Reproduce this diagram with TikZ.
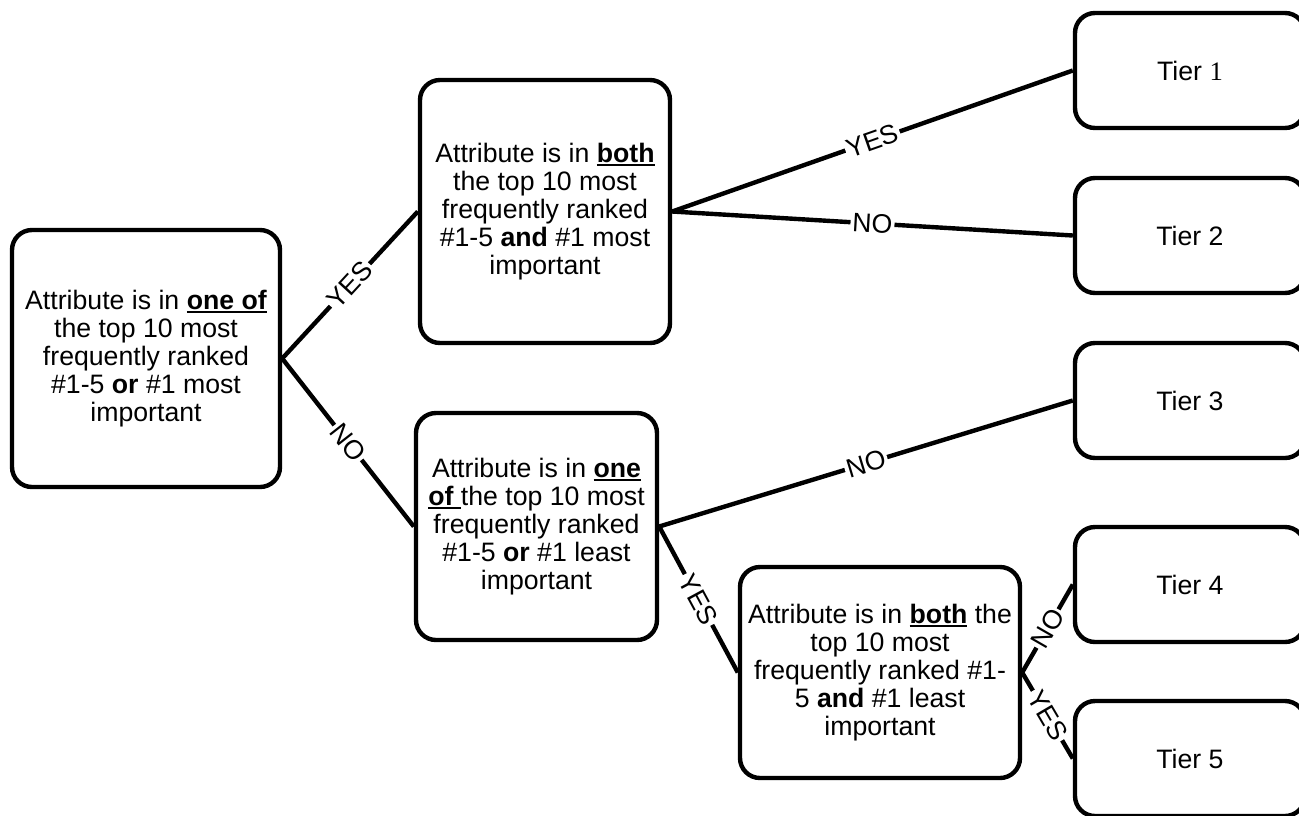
\documentclass[tikz,border=0pt]{standalone}
\usepackage{fontspec}
\setmainfont{Liberation Sans}
\newfontfamily\timesfont{Liberation Serif}
\newcommand{\ubf}[1]{\setbox0\hbox{\textbf{#1}}\rlap{\rule[-2.6pt]{\wd0}{1.4pt}}\box0\relax}

\tikzset{every picture/.style={line width=3.3pt}}

\begin{document}
\begin{tikzpicture}[x=0.75pt,y=-0.75pt,
  box/.style={draw, rounded corners=15pt, align=center, inner sep=0pt,
    font=\fontsize{20}{21}\selectfont},
  tier/.style={box, minimum width=172.5pt, minimum height=86.25pt},
  ans/.style={midway, sloped, fill=white, inner sep=1.5pt,
    font=\fontsize{20}{21}\selectfont}]
\useasboundingbox (0,0) rectangle (1299,815);

% Decision boxes
\node [box, minimum width=201pt, minimum height=192.75pt] (first) at (146,358.5) {Attribute is in \ubf{one of}\\the top 10 most\\frequently ranked\\\#1-5 \textbf{or} \#1 most\\important};
\node [box, minimum width=187.5pt, minimum height=197.25pt] (both) at (545,211.5) {Attribute is in \ubf{both}\\the top 10 most\\frequently ranked\\\#1-5 \textbf{and} \#1 most\\important};
\node [box, minimum width=180.75pt, minimum height=170.25pt] (oneleast) at (536.5,526.5) {Attribute is in \ubf{one}\\\ubf{of\ }the top 10 most\\frequently ranked\\\#1-5 \textbf{or} \#1 least\\important};
\node [box, minimum width=210pt, minimum height=158.25pt] (bothleast) at (880,672.5) {Attribute is in \ubf{both} the\\top 10 most\\frequently ranked \#1-\\5 \textbf{and} \#1 least\\important};

% Tiers
\node [tier] (tier1) at (1190,70.5) {Tier {\timesfont 1}};
\node [tier] (tier2) at (1190,235.5) {Tier 2};
\node [tier] (tier3) at (1190,400.5) {Tier 3};
\node [tier] (tier4) at (1190,584.5) {Tier 4};
\node [tier] (tier5) at (1190,758.5) {Tier 5};

% Branches
\draw (first.east) -- (both.west) node [ans] {YES};
\draw (first.east) -- (oneleast.west) node [ans] {NO};
\draw (both.east) -- (tier1.west) node [ans] {YES};
\draw (both.east) -- (tier2.west) node [ans] {NO};
\draw (oneleast.east) -- (tier3.west) node [ans] {NO};
\draw (oneleast.east) -- (bothleast.west) node [ans] {YES};
\draw (bothleast.east) -- (tier4.west) node [ans] {NO};
\draw (bothleast.east) -- (tier5.west) node [ans] {YES};

\end{tikzpicture}
\end{document}
